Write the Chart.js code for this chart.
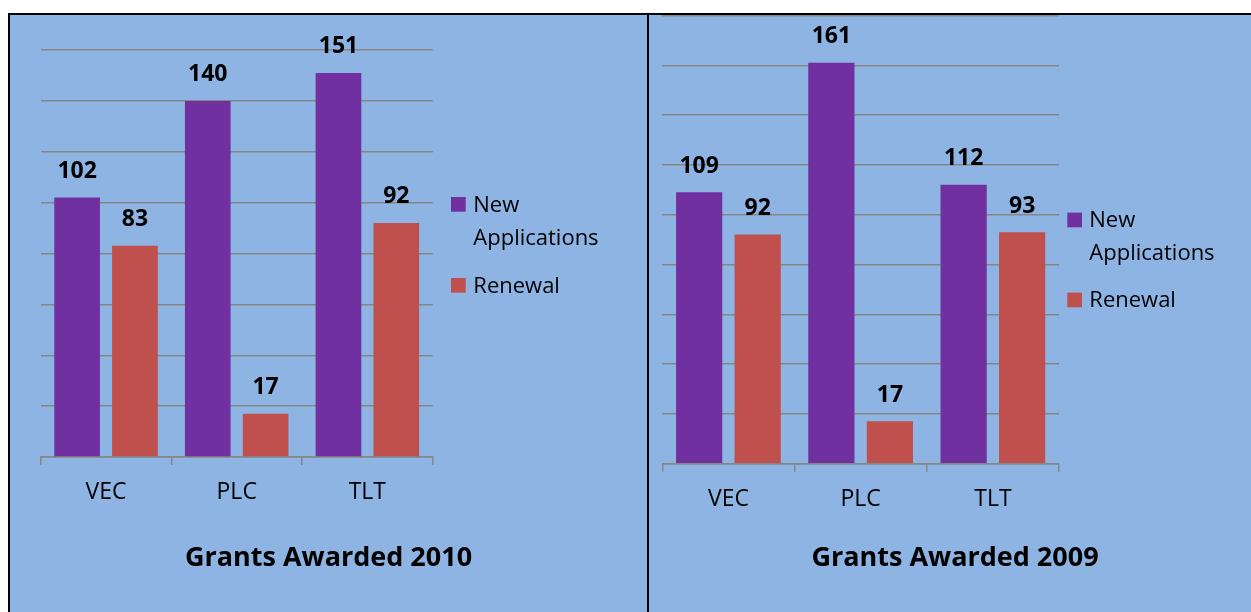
<!DOCTYPE html>
<html>
<head>
<meta charset="utf-8">
<script src="https://cdn.jsdelivr.net/npm/chart.js@4"></script>
<style>
html,body{margin:0;padding:0;background:#fff;width:1251px;height:612px;overflow:hidden;}
#panel{position:absolute;left:8px;top:13px;width:1260px;height:640px;background:#8DB4E3;border:2px solid #000;box-sizing:border-box;}
#divider{position:absolute;left:647px;top:13px;width:2px;height:640px;background:#000;}
.wrap{position:absolute;top:0;height:612px;}
</style>
</head>
<body>
<div id="panel"></div>
<div id="divider"></div>
<div class="wrap" style="left:10px;width:637px"><canvas id="c2010"></canvas></div>
<div class="wrap" style="left:649px;width:612px"><canvas id="c2009"></canvas></div>
<script>
// ---- data ----
const categories = ['VEC', 'PLC', 'TLT'];
const seriesNames = ['New Applications', 'Renewal'];
const newApplications2010 = [102, 140, 151];
const renewal2010 = [83, 17, 92];
const newApplications2009 = [109, 161, 112];
const renewal2009 = [92, 17, 93];
const title2010 = 'Grants Awarded 2010';
const title2009 = 'Grants Awarded 2009';
const yMax2010 = 160;
const yMax2009 = 180;
const yStep = 20;

// ---- styling ----
Chart.defaults.font.family = "'Open Sans', sans-serif";
Chart.defaults.color = '#000';
const PURPLE = '#7030A0';
const RED = '#C0504D';
const GRID = '#868686';

const valueLabels = {
  id: 'valueLabels',
  afterDatasetsDraw(chart, args, o) {
    const ctx = chart.ctx;
    ctx.save();
    ctx.font = o.font;
    ctx.fillStyle = '#000';
    ctx.textAlign = 'center';
    ctx.textBaseline = 'alphabetic';
    chart.data.datasets.forEach((ds, i) => {
      chart.getDatasetMeta(i).data.forEach((bar, j) => {
        ctx.fillText(String(ds.data[j]), bar.x, bar.y - o.offset);
      });
    });
    ctx.restore();
  }
};

function wrapText(ctx, text, maxWidth) {
  const words = text.split(' ');
  const lines = [];
  let cur = '';
  words.forEach(w => {
    const test = cur ? cur + ' ' + w : w;
    if (cur && ctx.measureText(test).width > maxWidth) { lines.push(cur); cur = w; }
    else cur = test;
  });
  if (cur) lines.push(cur);
  return lines;
}

const sideLegend = {
  id: 'sideLegend',
  afterDraw(chart, args, o) {
    const ctx = chart.ctx;
    ctx.save();
    ctx.font = o.font;
    ctx.textAlign = 'left';
    ctx.textBaseline = 'alphabetic';
    let y = o.y;
    chart.data.datasets.forEach(ds => {
      const lines = wrapText(ctx, ds.label, o.maxWidth);
      ctx.fillStyle = ds.backgroundColor;
      ctx.fillRect(o.boxX, y - o.box, o.box, o.box);
      ctx.fillStyle = '#000';
      lines.forEach((ln, k) => ctx.fillText(ln, o.textX, y + k * o.lineHeight));
      y += (lines.length - 1) * o.lineHeight + o.itemGap;
    });
    ctx.restore();
  }
};

function makeChart(id, newVals, renVals, title, yMax, L) {
  return new Chart(document.getElementById(id), {
    type: 'bar',
    data: {
      labels: categories,
      datasets: [
        { label: seriesNames[0], data: newVals, backgroundColor: PURPLE },
        { label: seriesNames[1], data: renVals, backgroundColor: RED }
      ]
    },
    options: {
      responsive: true,
      maintainAspectRatio: false,
      animation: false,
      categoryPercentage: 0.885,
      barPercentage: 0.79,
      layout: { padding: { left: 0, right: 0, top: L.top, bottom: 0 } },
      plugins: {
        legend: { display: false },
        tooltip: { enabled: false },
        title: {
          display: true, position: 'bottom', text: title, color: '#000',
          font: { size: 27, weight: 'bold' }, padding: { top: 0, bottom: L.titleBottom }
        },
        valueLabels: { font: "bold 23px 'Open Sans'", offset: 19.5 },
        sideLegend: L.legend
      },
      scales: {
        x: {
          afterFit(s) { s.height = L.xHeight; },
          grid: { display: true, drawOnChartArea: false, drawTicks: true, tickLength: 8, color: GRID, lineWidth: 1.5 },
          border: { display: true, color: GRID, width: 1.5 },
          ticks: { font: { size: 23 }, color: '#000', padding: 14 }
        },
        y: {
          min: 0, max: yMax,
          afterFit(s) { s.width = L.left; },
          ticks: { display: false, stepSize: yStep },
          grid: { color: GRID, lineWidth: 1.5, drawTicks: false },
          border: { display: false }
        },
        legendSpace: {
          type: 'linear', position: 'right', display: true,
          afterFit(s) { s.width = L.right; },
          ticks: { display: false },
          grid: { display: false, drawTicks: false },
          border: { display: false }
        }
      }
    },
    plugins: [valueLabels, sideLegend]
  });
}

makeChart('c2010', newApplications2010, renewal2010, title2010, yMax2010, {
  left: 30.7, right: 214.3, top: 50, xHeight: 85.6, titleBottom: 37,
  legend: { font: "22px 'Open Sans'", y: 211.7, boxX: 441, box: 14.7, textX: 463.3, lineHeight: 33.3, itemGap: 47.7, maxWidth: 165 }
});
makeChart('c2009', newApplications2009, renewal2009, title2009, yMax2009, {
  left: 13.3, right: 202, top: 15.5, xHeight: 78.9, titleBottom: 37,
  legend: { font: "22px 'Open Sans'", y: 227.3, boxX: 418.3, box: 14.7, textX: 440.3, lineHeight: 32.7, itemGap: 47.3, maxWidth: 155 }
});
</script>
</body>
</html>
